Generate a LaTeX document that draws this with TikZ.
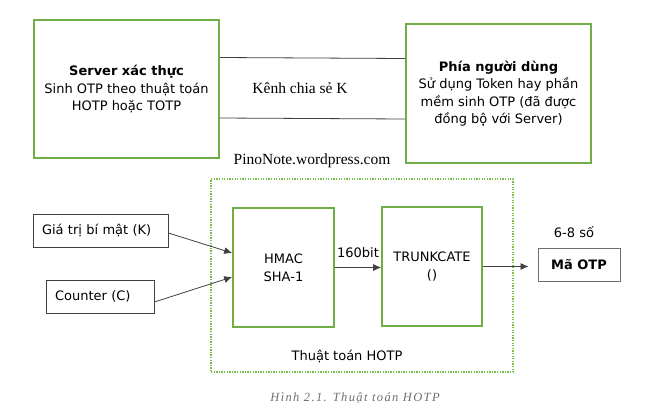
\documentclass[tikz,border=0pt]{standalone}
\usepackage{fontspec}
\setmainfont{Liberation Serif}
\setsansfont{DejaVu Sans}
\usetikzlibrary{arrows.meta,positioning,calc}
\definecolor{boxgreen}{RGB}{112,173,71}
\definecolor{dotgreen}{RGB}{120,190,70}
\definecolor{linegray}{RGB}{64,64,64}
\definecolor{capgray}{RGB}{110,110,110}
\tikzset{
	bigbox/.style={draw=boxgreen,line width=1.6pt,align=center,inner sep=0,font=\sffamily\fontsize{13}{17.5}\selectfont},
	algbox/.style={draw=boxgreen,line width=1.6pt,align=center,inner sep=0,minimum width=100pt,minimum height=119pt,font=\sffamily\fontsize{13}{18}\selectfont},
	inbox/.style={draw=linegray,line width=0.8pt,inner sep=0,minimum height=33pt,font=\sffamily\fontsize{13}{16}\selectfont},
	outbox/.style={draw=capgray,line width=1pt,inner sep=0,minimum width=82pt,minimum height=33pt,font=\sffamily\bfseries\fontsize{13}{16}\selectfont},
	txt/.style={font=\sffamily\fontsize{13}{16}\selectfont,inner sep=0},
	sertxt/.style={font=\fontsize{15.5}{18}\selectfont,inner sep=0},
	chan/.style={draw=linegray,line width=0.8pt},
	diredge/.style={->,>={Latex[width=7pt,length=8pt]},draw=linegray,line width=0.8pt}
}
\begin{document}
\begin{tikzpicture}[x=1pt,y=-1pt]
	\useasboundingbox (0,0) rectangle (656,416);
	%%% hai ben
	\node[bigbox,minimum width=185pt,minimum height=138pt] (server) at (126.5,89) {\textbf{Server xác thực}\\Sinh OTP theo thuật toán\\HOTP hoặc TOTP};
	\node[bigbox,minimum width=185pt,minimum height=139pt] (user) at (498.5,93.5) {\textbf{Phía người dùng}\\Sử dụng Token hay phần\\mềm sinh OTP (đã được\\đồng bộ với Server)};
	\draw[chan] ([yshift=31.5pt]server.east) -- ([yshift=35pt]user.west);
	\draw[chan] ([yshift=-29pt]server.east) -- ([yshift=-25.5pt]user.west);
	\node[sertxt] (kenh) at (300,88) {Kênh chia sẻ K};
	\node[sertxt] (pino) at (312,161) {PinoNote.wordpress.com};
	
	%%% HOTP
	\node[draw=dotgreen,line width=1.3pt,dash pattern=on 1.3pt off 1.3pt,minimum width=302pt,minimum height=193pt] (hotp) at (362,275.5) {};
	\node[algbox,minimum width=101pt] (hmac) at (283.5,267.5) {HMAC\\SHA-1};
	\node[algbox] (trunc) at (432,266.5) {TRUNKCATE\\()};
	\node[inbox,minimum width=135pt,text width=117pt,align=left] (key) at (100.5,230.5) {Giá trị bí mật (K)};
	\node[inbox,minimum width=108pt,text width=90pt,align=left] (counter) at (100,296.5) {Counter (C)};
	\node[outbox] (otp) at (579,264.5) {Mã OTP};
	\node[txt] (digits) at (574,232) {6-8 số};
	\node[txt] (hotplabel) at (347,356) {Thuật toán HOTP};
	
	\draw[diredge] ([yshift=-2.5pt]key.east) -- ([yshift=14.5pt]hmac.west);
	\draw[diredge] ([yshift=-5.5pt]counter.east) -- ([yshift=-9.5pt]hmac.west);
	\draw[diredge] (hmac.east) -- (hmac.east -| trunc.west) node[midway,above=9pt,txt] {160bit};
	\draw[diredge,shorten >=9pt] (trunc.east) -- (trunc.east -| otp.west);
	
	\node[font=\itshape\addfontfeature{LetterSpace=11}\fontsize{12.5}{14}\selectfont,text=capgray,inner sep=0] (caption) at (355,398) {Hình 2.1. Thuật toán HOTP};
\end{tikzpicture}
\end{document}
